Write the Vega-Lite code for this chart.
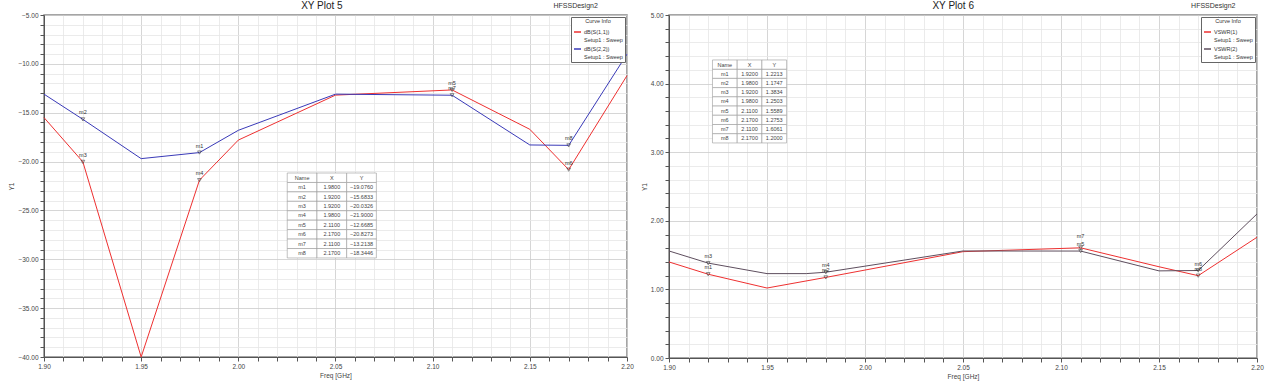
{
  "$schema": "https://vega.github.io/schema/vega-lite/v6.json",
  "padding": {"left": 8, "top": 0, "right": 0, "bottom": 0},
  "background": "white",
  "spacing": 5,
  "config": {
    "font": "Liberation Sans",
    "view": {"stroke": "#888", "strokeWidth": 1.5},
    "axis": {"domainColor": "#555", "tickColor": "#555", "tickSize": 4, "labelFontSize": 6.5, "labelColor": "#444", "titleFontSize": 6.5, "titleFontWeight": "normal", "titleColor": "#444", "labelPadding": 2, "titlePadding": 3, "gridWidth": 0.8, "labelFlush": false, "labelOverlap": false, "tickCount": 200},
    "legend": {"orient": "top-right", "offset": 2, "fillColor": "white", "strokeColor": "#666", "padding": 2, "titleFontSize": 5.5, "titleFontWeight": "normal", "titleAnchor": "middle", "titleColor": "#333", "titlePadding": 3, "labelFontSize": 5.5, "labelColor": "#333", "labelOffset": 2, "symbolType": "stroke", "symbolStrokeWidth": 1.5, "symbolSize": 50, "rowPadding": 1}
  },
  "datasets": {
    "s5": [
      {"series": "dB(S(1,1))", "freq": 1.90, "val": -15.5},
      {"series": "dB(S(1,1))", "freq": 1.92, "val": -20.03},
      {"series": "dB(S(1,1))", "freq": 1.95, "val": -40.0},
      {"series": "dB(S(1,1))", "freq": 1.98, "val": -21.9},
      {"series": "dB(S(1,1))", "freq": 2.00, "val": -17.8},
      {"series": "dB(S(1,1))", "freq": 2.05, "val": -13.2},
      {"series": "dB(S(1,1))", "freq": 2.11, "val": -12.67},
      {"series": "dB(S(1,1))", "freq": 2.15, "val": -16.7},
      {"series": "dB(S(1,1))", "freq": 2.17, "val": -20.83},
      {"series": "dB(S(1,1))", "freq": 2.20, "val": -11.2},
      {"series": "dB(S(2,2))", "freq": 1.90, "val": -13.1},
      {"series": "dB(S(2,2))", "freq": 1.92, "val": -15.68},
      {"series": "dB(S(2,2))", "freq": 1.95, "val": -19.7},
      {"series": "dB(S(2,2))", "freq": 1.98, "val": -19.08},
      {"series": "dB(S(2,2))", "freq": 2.00, "val": -16.8},
      {"series": "dB(S(2,2))", "freq": 2.05, "val": -13.1},
      {"series": "dB(S(2,2))", "freq": 2.11, "val": -13.21},
      {"series": "dB(S(2,2))", "freq": 2.15, "val": -18.3},
      {"series": "dB(S(2,2))", "freq": 2.17, "val": -18.34},
      {"series": "dB(S(2,2))", "freq": 2.20, "val": -9.0}
    ],
    "m5": [
      {"name": "m1", "freq": 1.98, "val": -19.076},
      {"name": "m2", "freq": 1.92, "val": -15.6833},
      {"name": "m3", "freq": 1.92, "val": -20.0326},
      {"name": "m4", "freq": 1.98, "val": -21.9},
      {"name": "m5", "freq": 2.11, "val": -12.6685},
      {"name": "m6", "freq": 2.17, "val": -20.8273},
      {"name": "m7", "freq": 2.11, "val": -13.2138},
      {"name": "m8", "freq": 2.17, "val": -18.3446}
    ],
    "s6": [
      {"series": "VSWR(1)", "freq": 1.90, "val": 1.40},
      {"series": "VSWR(1)", "freq": 1.92, "val": 1.2213},
      {"series": "VSWR(1)", "freq": 1.95, "val": 1.02},
      {"series": "VSWR(1)", "freq": 1.98, "val": 1.1747},
      {"series": "VSWR(1)", "freq": 2.05, "val": 1.55},
      {"series": "VSWR(1)", "freq": 2.11, "val": 1.6061},
      {"series": "VSWR(1)", "freq": 2.15, "val": 1.33},
      {"series": "VSWR(1)", "freq": 2.17, "val": 1.20},
      {"series": "VSWR(1)", "freq": 2.20, "val": 1.76},
      {"series": "VSWR(2)", "freq": 1.90, "val": 1.56},
      {"series": "VSWR(2)", "freq": 1.92, "val": 1.3834},
      {"series": "VSWR(2)", "freq": 1.95, "val": 1.23},
      {"series": "VSWR(2)", "freq": 1.97, "val": 1.23},
      {"series": "VSWR(2)", "freq": 1.98, "val": 1.2503},
      {"series": "VSWR(2)", "freq": 2.05, "val": 1.56},
      {"series": "VSWR(2)", "freq": 2.11, "val": 1.5589},
      {"series": "VSWR(2)", "freq": 2.15, "val": 1.27},
      {"series": "VSWR(2)", "freq": 2.17, "val": 1.2753},
      {"series": "VSWR(2)", "freq": 2.20, "val": 2.10}
    ],
    "m6": [
      {"name": "m1", "freq": 1.92, "val": 1.2213},
      {"name": "m2", "freq": 1.98, "val": 1.1747},
      {"name": "m3", "freq": 1.92, "val": 1.3834},
      {"name": "m4", "freq": 1.98, "val": 1.2503},
      {"name": "m5", "freq": 2.11, "val": 1.5589},
      {"name": "m6", "freq": 2.17, "val": 1.2753},
      {"name": "m7", "freq": 2.11, "val": 1.6061},
      {"name": "m8", "freq": 2.17, "val": 1.2000}
    ],
    "hdr": [{"col": "Name"}, {"col": "X"}, {"col": "Y"}]
  },
  "hconcat": [
    {
      "width": 583, "height": 342,
      "resolve": {"scale": {"x": "independent", "y": "independent"}},
      "layer": [
        {
          "layer": [
            {
              "data": {"name": "s5"},
              "mark": {"type": "line", "strokeWidth": 1},
              "encoding": {
                "x": {"field": "freq", "type": "quantitative", "scale": {"domain": [1.9, 2.2], "nice": false, "zero": false},
                  "axis": {"title": "Freq [GHz]", "tickCount": 200, "labelOverlap": false, "values": [1.9,1.91,1.92,1.93,1.94,1.95,1.96,1.97,1.98,1.99,2.0,2.01,2.02,2.03,2.04,2.05,2.06,2.07,2.08,2.09,2.1,2.11,2.12,2.13,2.14,2.15,2.16,2.17,2.18,2.19,2.2],
                    "labelExpr": "abs(datum.value*20-round(datum.value*20))<0.001 ? format(datum.value,'.2f') : ''",
                    "gridColor": {"condition": {"test": "abs(datum.value*20-round(datum.value*20))<0.001", "value": "#cccccc"}, "value": "#e6e6e6"}}},
                "y": {"field": "val", "type": "quantitative", "scale": {"domain": [-40, -5], "nice": false, "zero": false},
                  "axis": {"title": "Y1", "tickCount": 200, "labelOverlap": false, "values": [-40,-39,-38,-37,-36,-35,-34,-33,-32,-31,-30,-29,-28,-27,-26,-25,-24,-23,-22,-21,-20,-19,-18,-17,-16,-15,-14,-13,-12,-11,-10,-9,-8,-7,-6,-5],
                    "labelExpr": "datum.value % 5 == 0 ? format(datum.value,'.2f') : ''",
                    "gridColor": {"condition": {"test": "datum.value % 5 == 0", "value": "#cccccc"}, "value": "#e6e6e6"}}},
                "color": {"field": "series", "type": "nominal", "scale": {"domain": ["dB(S(1,1))", "dB(S(2,2))"], "range": ["#ee3030", "#3a3ab8"]},
                  "legend": {"title": "Curve Info", "labelExpr": "[datum.label, 'Setup1 : Sweep']"}}
              }
            },
            {
              "data": {"name": "m5"},
              "mark": {"type": "point", "shape": "triangle-down", "size": 14, "stroke": "#333", "strokeWidth": 0.8, "filled": false},
              "encoding": {"x": {"field": "freq", "type": "quantitative"}, "y": {"field": "val", "type": "quantitative"}}
            },
            {
              "data": {"name": "m5"},
              "mark": {"type": "text", "fontSize": 5.5, "color": "#333", "dy": -7},
              "encoding": {"x": {"field": "freq", "type": "quantitative"}, "y": {"field": "val", "type": "quantitative"}, "text": {"field": "name"}}
            },
            {
              "data": {"values": [{"t": "XY Plot 5"}]},
              "mark": {"type": "text", "fontSize": 10, "color": "#222", "dy": -9},
              "encoding": {"x": {"datum": 2.043}, "y": {"datum": -5}, "text": {"field": "t"}}
            },
            {
              "data": {"values": [{"t": "HFSSDesign2"}]},
              "mark": {"type": "text", "fontSize": 7, "color": "#333", "align": "right", "dy": -9},
              "encoding": {"x": {"datum": 2.185}, "y": {"datum": -5}, "text": {"field": "t"}}
            },
            {
              "data": {"values": [{"t": "logo"}]},
              "mark": {"type": "point", "shape": "triangle-up", "filled": true, "color": "#9a7a7a", "size": 25, "dy": -9},
              "encoding": {"x": {"datum": 2.192}, "y": {"datum": -5.9}}
            }
          ]
        },
        {
          "layer": [
            {
              "data": {"name": "m5"},
              "mark": {"type": "rect", "fill": "white", "stroke": "#999", "strokeWidth": 0.6},
              "encoding": {
                "x": {"datum": "Name", "type": "nominal", "scale": {"type": "band", "domain": ["a1","a2","a3","a4","a5","a6","a7","a8","Name", "X", "Y","b1","b2","b3","b4","b5","b6","b7","b8"], "paddingInner": 0, "paddingOuter": 0.31, "align": 0.3}, "axis": null},
                "y": {"field": "name", "type": "nominal", "scale": {"type": "band", "domain": ["a1","a2","a3","a4","a5","a6","a7","a8","a9","a10","a11","a12","a13","a14","a15","a16","Name", "m1", "m2", "m3", "m4", "m5", "m6", "m7", "m8","b1","b2","b3","b4","b5","b6","b7","b8","b9","b10"], "paddingInner": 0, "paddingOuter": 0.615, "align": 0.6}, "axis": null}
              }
            },
            {
              "data": {"name": "m5"},
              "mark": {"type": "rect", "fill": "white", "stroke": "#999", "strokeWidth": 0.6},
              "encoding": {"x": {"datum": "X", "type": "nominal"}, "y": {"field": "name", "type": "nominal"}}
            },
            {
              "data": {"name": "m5"},
              "mark": {"type": "rect", "fill": "white", "stroke": "#999", "strokeWidth": 0.6},
              "encoding": {"x": {"datum": "Y", "type": "nominal"}, "y": {"field": "name", "type": "nominal"}}
            },
            {
              "data": {"name": "hdr"},
              "mark": {"type": "rect", "fill": "white", "stroke": "#999", "strokeWidth": 0.6},
              "encoding": {"x": {"field": "col", "type": "nominal"}, "y": {"datum": "Name", "type": "nominal"}}
            },
            {
              "data": {"name": "hdr"},
              "mark": {"type": "text", "fontSize": 5.5, "color": "#444"},
              "encoding": {"x": {"field": "col", "type": "nominal"}, "y": {"datum": "Name", "type": "nominal"}, "text": {"field": "col"}}
            },
            {
              "data": {"name": "m5"},
              "mark": {"type": "text", "fontSize": 5.5, "color": "#444"},
              "encoding": {"x": {"datum": "Name", "type": "nominal"}, "y": {"field": "name", "type": "nominal"}, "text": {"field": "name"}}
            },
            {
              "data": {"name": "m5"},
              "mark": {"type": "text", "fontSize": 5.5, "color": "#444"},
              "encoding": {"x": {"datum": "X", "type": "nominal"}, "y": {"field": "name", "type": "nominal"}, "text": {"field": "freq", "format": ".4f"}}
            },
            {
              "data": {"name": "m5"},
              "mark": {"type": "text", "fontSize": 5.5, "color": "#444"},
              "encoding": {"x": {"datum": "Y", "type": "nominal"}, "y": {"field": "name", "type": "nominal"}, "text": {"field": "val", "format": ".4f"}}
            }
          ]
        }
      ]
    },
    {
      "width": 588, "height": 343,
      "resolve": {"scale": {"x": "independent", "y": "independent"}},
      "layer": [
        {
          "layer": [
            {
              "data": {"name": "s6"},
              "mark": {"type": "line", "strokeWidth": 1},
              "encoding": {
                "x": {"field": "freq", "type": "quantitative", "scale": {"domain": [1.9, 2.2], "nice": false, "zero": false},
                  "axis": {"title": "Freq [GHz]", "tickCount": 200, "labelOverlap": false, "values": [1.9,1.91,1.92,1.93,1.94,1.95,1.96,1.97,1.98,1.99,2.0,2.01,2.02,2.03,2.04,2.05,2.06,2.07,2.08,2.09,2.1,2.11,2.12,2.13,2.14,2.15,2.16,2.17,2.18,2.19,2.2],
                    "labelExpr": "abs(datum.value*20-round(datum.value*20))<0.001 ? format(datum.value,'.2f') : ''",
                    "gridColor": {"condition": {"test": "abs(datum.value*20-round(datum.value*20))<0.001", "value": "#cccccc"}, "value": "#e6e6e6"}}},
                "y": {"field": "val", "type": "quantitative", "scale": {"domain": [0, 5], "nice": false, "zero": false},
                  "axis": {"title": "Y1", "tickCount": 200, "labelOverlap": false, "values": [0,0.2,0.4,0.6,0.8,1,1.2,1.4,1.6,1.8,2,2.2,2.4,2.6,2.8,3,3.2,3.4,3.6,3.8,4,4.2,4.4,4.6,4.8,5],
                    "labelExpr": "abs(datum.value-round(datum.value))<0.001 ? format(datum.value,'.2f') : ''",
                    "gridColor": {"condition": {"test": "abs(datum.value-round(datum.value))<0.001", "value": "#cccccc"}, "value": "#e6e6e6"}}},
                "color": {"field": "series", "type": "nominal", "scale": {"domain": ["VSWR(1)", "VSWR(2)"], "range": ["#ee3030", "#5e4e5e"]},
                  "legend": {"title": "Curve Info", "labelExpr": "[datum.label, 'Setup1 : Sweep']"}}
              }
            },
            {
              "data": {"name": "m6"},
              "mark": {"type": "point", "shape": "triangle-down", "size": 14, "stroke": "#333", "strokeWidth": 0.8, "filled": false},
              "encoding": {"x": {"field": "freq", "type": "quantitative"}, "y": {"field": "val", "type": "quantitative"}}
            },
            {
              "data": {"name": "m6"},
              "transform": [{"filter": "datum.name != 'm7'"}],
              "mark": {"type": "text", "fontSize": 5.5, "color": "#333", "dy": -7},
              "encoding": {"x": {"field": "freq", "type": "quantitative"}, "y": {"field": "val", "type": "quantitative"}, "text": {"field": "name"}}
            },
            {
              "data": {"name": "m6"},
              "transform": [{"filter": "datum.name == 'm7'"}],
              "mark": {"type": "text", "fontSize": 5.5, "color": "#333", "dy": -12},
              "encoding": {"x": {"field": "freq", "type": "quantitative"}, "y": {"field": "val", "type": "quantitative"}, "text": {"field": "name"}}
            },
            {
              "data": {"values": [{"t": "XY Plot 6"}]},
              "mark": {"type": "text", "fontSize": 10, "color": "#222", "dy": -9},
              "encoding": {"x": {"datum": 2.045}, "y": {"datum": 5}, "text": {"field": "t"}}
            },
            {
              "data": {"values": [{"t": "HFSSDesign2"}]},
              "mark": {"type": "text", "fontSize": 7, "color": "#333", "align": "right", "dy": -9},
              "encoding": {"x": {"datum": 2.189}, "y": {"datum": 5}, "text": {"field": "t"}}
            },
            {
              "data": {"values": [{"t": "logo"}]},
              "mark": {"type": "point", "shape": "triangle-up", "filled": true, "color": "#9a7a7a", "size": 25, "dy": -9},
              "encoding": {"x": {"datum": 2.196}, "y": {"datum": 4.87}}
            }
          ]
        },
        {
          "layer": [
            {
              "data": {"name": "m6"},
              "mark": {"type": "rect", "fill": "white", "stroke": "#999", "strokeWidth": 0.6},
              "encoding": {
                "x": {"datum": "Name", "type": "nominal", "scale": {"type": "band", "domain": ["a1","Name", "X", "Y","b1","b2","b3","b4","b5","b6","b7","b8","b9","b10","b11","b12","b13","b14","b15","b16","b17","b18","b19"], "paddingInner": 0, "paddingOuter": 0.4, "align": 0.95}, "axis": null},
                "y": {"field": "name", "type": "nominal", "scale": {"type": "band", "domain": ["a1","a2","a3","a4","Name", "m1", "m2", "m3", "m4", "m5", "m6", "m7", "m8","b1","b2","b3","b4","b5","b6","b7","b8","b9","b10","b11","b12","b13","b14","b15","b16","b17","b18","b19","b20","b21","b22","b23"], "paddingInner": 0, "paddingOuter": 0.6, "align": 0.73}, "axis": null}
              }
            },
            {
              "data": {"name": "m6"},
              "mark": {"type": "rect", "fill": "white", "stroke": "#999", "strokeWidth": 0.6},
              "encoding": {"x": {"datum": "X", "type": "nominal"}, "y": {"field": "name", "type": "nominal"}}
            },
            {
              "data": {"name": "m6"},
              "mark": {"type": "rect", "fill": "white", "stroke": "#999", "strokeWidth": 0.6},
              "encoding": {"x": {"datum": "Y", "type": "nominal"}, "y": {"field": "name", "type": "nominal"}}
            },
            {
              "data": {"name": "hdr"},
              "mark": {"type": "rect", "fill": "white", "stroke": "#999", "strokeWidth": 0.6},
              "encoding": {"x": {"field": "col", "type": "nominal"}, "y": {"datum": "Name", "type": "nominal"}}
            },
            {
              "data": {"name": "hdr"},
              "mark": {"type": "text", "fontSize": 5.5, "color": "#444"},
              "encoding": {"x": {"field": "col", "type": "nominal"}, "y": {"datum": "Name", "type": "nominal"}, "text": {"field": "col"}}
            },
            {
              "data": {"name": "m6"},
              "mark": {"type": "text", "fontSize": 5.5, "color": "#444"},
              "encoding": {"x": {"datum": "Name", "type": "nominal"}, "y": {"field": "name", "type": "nominal"}, "text": {"field": "name"}}
            },
            {
              "data": {"name": "m6"},
              "mark": {"type": "text", "fontSize": 5.5, "color": "#444"},
              "encoding": {"x": {"datum": "X", "type": "nominal"}, "y": {"field": "name", "type": "nominal"}, "text": {"field": "freq", "format": ".4f"}}
            },
            {
              "data": {"name": "m6"},
              "mark": {"type": "text", "fontSize": 5.5, "color": "#444"},
              "encoding": {"x": {"datum": "Y", "type": "nominal"}, "y": {"field": "name", "type": "nominal"}, "text": {"field": "val", "format": ".4f"}}
            }
          ]
        }
      ]
    }
  ],
  "resolve": {"scale": {"color": "independent"}, "legend": {"color": "independent"}}
}
